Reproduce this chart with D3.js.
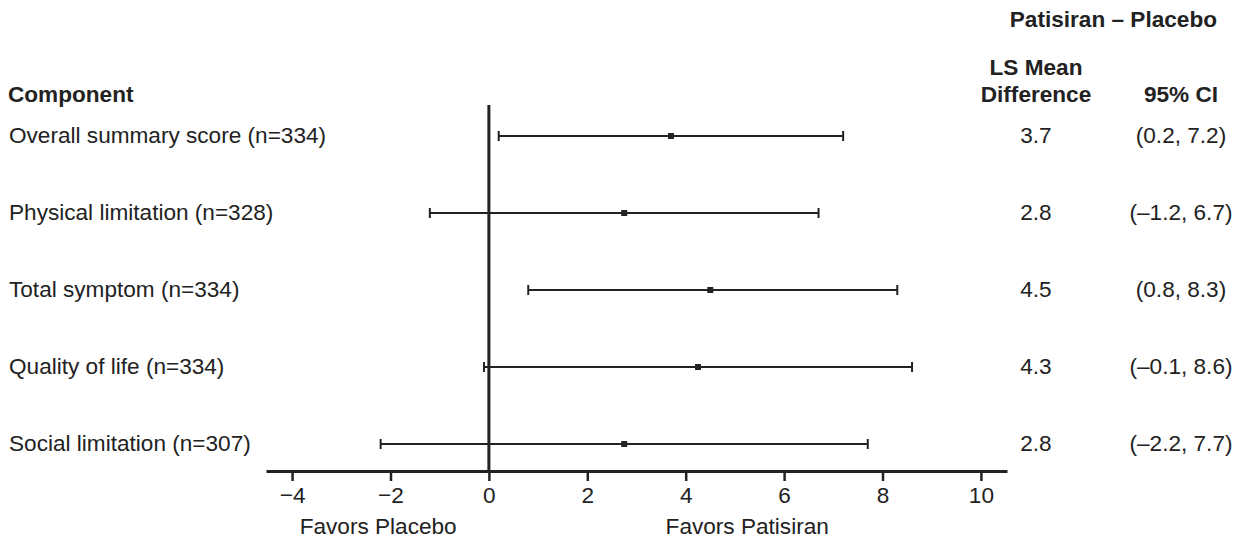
<!DOCTYPE html>
<html>
<head>
<meta charset="utf-8">
<script src="https://cdn.jsdelivr.net/npm/d3@7"></script>
<style>
  body { margin: 0; background: #fff; }
  svg { display: block; }
  text { font-family: "Liberation Sans", Arial, sans-serif; fill: #222; }
</style>
</head>
<body>
<svg width="1246" height="539"></svg>
<script>
// forest plot data
var components = ["Overall summary score (n=334)", "Physical limitation (n=328)", "Total symptom (n=334)", "Quality of life (n=334)", "Social limitation (n=307)"];
var est   = [3.7, 2.75, 4.5, 4.25, 2.75];
var lower = [0.2, -1.2, 0.8, -0.1, -2.2];
var upper = [7.2, 6.7, 8.3, 8.6, 7.7];
var estLabels = ["3.7", "2.8", "4.5", "4.3", "2.8"];
var ciLabels  = ["(0.2, 7.2)", "(\u20131.2, 6.7)", "(0.8, 8.3)", "(\u20130.1, 8.6)", "(\u20132.2, 7.7)"];
var ticks = [-4, -2, 0, 2, 4, 6, 8, 10];
var favorLabels = ["Favors Placebo", "Favors Patisiran"];
var favorPos = [-2.25, 5.25];

var svg = d3.select("svg");
var ink = "#222";
var fs = "22.6px";

var x = d3.scaleLinear().domain([-4.53, 10.53]).range([266, 1007]);
var y = d3.scalePoint().domain(components).range([136, 444]);

// headers
svg.append("text").attr("x", 1217).attr("y", 27).attr("text-anchor", "end")
  .style("font-size", fs).style("font-weight", "bold").text("Patisiran \u2013 Placebo");
svg.append("text").attr("x", 1036).attr("y", 75).attr("text-anchor", "middle")
  .style("font-size", fs).style("font-weight", "bold").text("LS Mean");
svg.append("text").attr("x", 1036).attr("y", 102).attr("text-anchor", "middle")
  .style("font-size", fs).style("font-weight", "bold").text("Difference");
svg.append("text").attr("x", 1181).attr("y", 102).attr("text-anchor", "middle")
  .style("font-size", fs).style("font-weight", "bold").text("95% CI");
svg.append("text").attr("x", 8).attr("y", 102)
  .style("font-size", fs).style("font-weight", "bold").text("Component");

// axis
var axis = svg.append("g")
  .attr("transform", "translate(0,471)")
  .call(d3.axisBottom(x).tickValues(ticks).tickSize(10).tickSizeOuter(0).tickPadding(6));
axis.select(".domain").attr("stroke", ink).attr("stroke-width", 3);
axis.selectAll(".tick line").attr("stroke", ink).attr("stroke-width", 2.5);
axis.selectAll(".tick text").attr("fill", ink)
  .style("font-size", fs).style("font-family", "Liberation Sans, Arial, sans-serif");

// zero line
svg.append("line")
  .attr("x1", x(0)).attr("x2", x(0))
  .attr("y1", 105).attr("y2", 471)
  .attr("stroke", ink).attr("stroke-width", 3);

// rows
var rows = svg.selectAll(".row").data(components).enter().append("g").attr("class", "row");

rows.append("text").attr("x", 9).attr("y", function(d) { return y(d) + 7; })
  .style("font-size", fs).text(function(d) { return d; });

rows.append("line")
  .attr("x1", function(d, i) { return x(lower[i]); })
  .attr("x2", function(d, i) { return x(upper[i]); })
  .attr("y1", function(d) { return y(d); }).attr("y2", function(d) { return y(d); })
  .attr("stroke", ink).attr("stroke-width", 2);

rows.append("line")
  .attr("x1", function(d, i) { return x(lower[i]); })
  .attr("x2", function(d, i) { return x(lower[i]); })
  .attr("y1", function(d) { return y(d) - 5; }).attr("y2", function(d) { return y(d) + 5; })
  .attr("stroke", ink).attr("stroke-width", 2);

rows.append("line")
  .attr("x1", function(d, i) { return x(upper[i]); })
  .attr("x2", function(d, i) { return x(upper[i]); })
  .attr("y1", function(d) { return y(d) - 5; }).attr("y2", function(d) { return y(d) + 5; })
  .attr("stroke", ink).attr("stroke-width", 2);

rows.append("rect")
  .attr("x", function(d, i) { return x(est[i]) - 3; })
  .attr("y", function(d) { return y(d) - 3; })
  .attr("width", 6).attr("height", 6)
  .attr("fill", ink);

rows.append("text").attr("x", 1036).attr("y", function(d) { return y(d) + 7; })
  .attr("text-anchor", "middle").style("font-size", fs)
  .text(function(d, i) { return estLabels[i]; });

rows.append("text").attr("x", 1181).attr("y", function(d) { return y(d) + 7; })
  .attr("text-anchor", "middle").style("font-size", fs)
  .text(function(d, i) { return ciLabels[i]; });

// favors labels
svg.selectAll(".favor").data(favorLabels).enter().append("text")
  .attr("class", "favor")
  .attr("x", function(d, i) { return x(favorPos[i]); })
  .attr("y", 534).attr("text-anchor", "middle")
  .style("font-size", fs).text(function(d) { return d; });
</script>
</body>
</html>
